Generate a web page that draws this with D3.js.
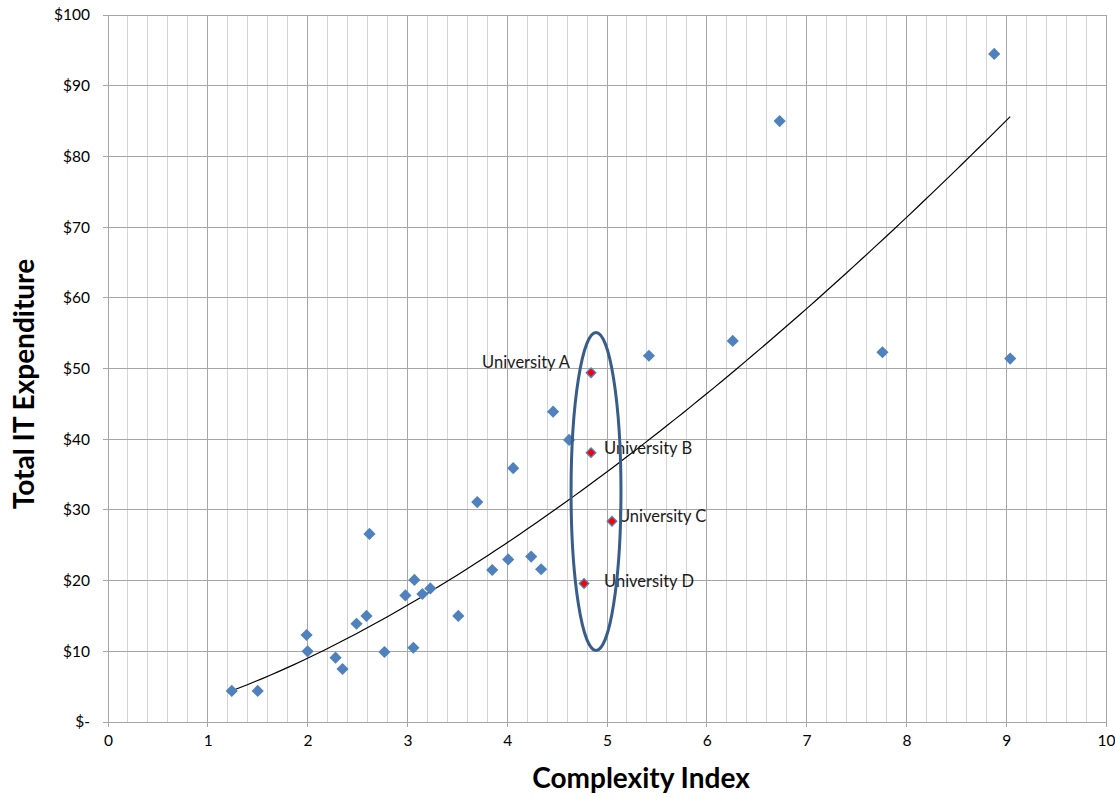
<!DOCTYPE html>
<html>
<head>
<meta charset="utf-8">
<script src="https://cdn.jsdelivr.net/npm/d3@7"></script>
<style>
  body { margin: 0; background: #fff; }
  text { font-family: Lato, "Open Sans", sans-serif; }
</style>
</head>
<body>
<div id="chart"></div>
<script>
// Data
const complexity = [1.24, 1.50, 1.99, 2.00, 2.28, 2.35, 2.49, 2.59, 2.62, 2.77,
                    2.98, 3.07, 3.06, 3.15, 3.23, 3.51, 3.70, 3.85, 4.01, 4.06,
                    4.24, 4.34, 4.46, 4.62, 5.42, 6.26, 6.73, 7.76, 8.88, 9.04];
const expenditure = [4.4, 4.4, 12.3, 10.0, 9.1, 7.5, 13.9, 15.0, 26.6, 9.9,
                     17.9, 20.1, 10.5, 18.1, 18.9, 15.0, 31.1, 21.5, 23.0, 35.9,
                     23.4, 21.6, 43.9, 39.9, 51.8, 53.9, 85.0, 52.3, 94.5, 51.4];
const universities = ['University A', 'University B', 'University C', 'University D'];
const uniComplexity = [4.84, 4.84, 5.05, 4.77];
const uniExpenditure = [49.4, 38.1, 28.4, 19.6];
const xTicks = [0, 1, 2, 3, 4, 5, 6, 7, 8, 9, 10];
const yTicks = [0, 10, 20, 30, 40, 50, 60, 70, 80, 90, 100];
// highlighted group (centre and half-axes in data units)
const groupCenter = [4.89, 32.6];
const groupRadius = [0.25, 22.5];

const width = 1115, height = 797;
const margin = { top: 15, right: 9, bottom: 75, left: 108 };
const w = width - margin.left - margin.right;
const h = height - margin.top - margin.bottom;

const svg = d3.select('#chart').append('svg')
    .attr('width', width)
    .attr('height', height);
const g = svg.append('g').attr('transform', `translate(${margin.left},${margin.top})`);

const x = d3.scaleLinear().domain([0, 10]).range([0, w]);
const y = d3.scaleLinear().domain([0, 100]).range([h, 0]);

// minor vertical grid every 0.2
g.selectAll('.minor')
    .data(d3.range(1, 50).filter(i => i % 5 !== 0).map(i => i / 5))
    .enter().append('line')
    .attr('x1', d => x(d)).attr('x2', d => x(d))
    .attr('y1', 0).attr('y2', h)
    .attr('stroke', '#d4d4d4').attr('shape-rendering', 'crispEdges');

// major vertical grid
g.selectAll('.vmajor')
    .data(xTicks)
    .enter().append('line')
    .attr('x1', d => x(d)).attr('x2', d => x(d))
    .attr('y1', 0).attr('y2', h + 5)
    .attr('stroke', '#a6a6a6').attr('shape-rendering', 'crispEdges');

// horizontal grid
g.selectAll('.hmajor')
    .data(yTicks)
    .enter().append('line')
    .attr('x1', -5).attr('x2', w)
    .attr('y1', d => y(d)).attr('y2', d => y(d))
    .attr('stroke', '#a6a6a6').attr('shape-rendering', 'crispEdges');

// axes labels via d3 axes (lines hidden, grid drawn above)
const xAxis = g.append('g')
    .attr('transform', `translate(0,${h})`)
    .call(d3.axisBottom(x).tickValues(xTicks).tickSize(0).tickPadding(13));
const yAxis = g.append('g')
    .call(d3.axisLeft(y).tickValues(yTicks).tickSize(0).tickPadding(18)
        .tickFormat(d => d === 0 ? '$-' : '$' + d));
[xAxis, yAxis].forEach(a => {
    a.select('.domain').remove();
    a.selectAll('text')
        .attr('font-family', 'Lato, sans-serif')
        .attr('font-size', 15.5)
        .attr('fill', '#000');
});

// power trendline fitted from all points
const allX = complexity.concat(uniComplexity);
const allY = expenditure.concat(uniExpenditure);
const lx = allX.map(Math.log), ly = allY.map(Math.log);
const mx = d3.mean(lx), my = d3.mean(ly);
const b = d3.sum(lx, (v, i) => (v - mx) * (ly[i] - my)) / d3.sum(lx, v => (v - mx) * (v - mx));
const a = Math.exp(my - b * mx);
const [xMin, xMax] = d3.extent(allX);
const trend = d3.range(0, 101).map(i => xMin + (xMax - xMin) * i / 100);
g.append('path')
    .datum(trend)
    .attr('fill', 'none')
    .attr('stroke', '#000')
    .attr('stroke-width', 1.2)
    .attr('d', d3.line().x(d => x(d)).y(d => y(a * Math.pow(d, b))));

// blue diamonds
const diamond = d3.symbol().type(d3.symbolSquare).size(74);
g.selectAll('.pt')
    .data(complexity)
    .enter().append('path')
    .attr('d', diamond)
    .attr('transform', (d, i) => `translate(${x(d)},${y(expenditure[i])}) rotate(45)`)
    .attr('fill', '#4f81bd');

// highlighted universities
const small = d3.symbol().type(d3.symbolSquare).size(46);
g.selectAll('.uni')
    .data(universities)
    .enter().append('path')
    .attr('d', small)
    .attr('transform', (d, i) => `translate(${x(uniComplexity[i])},${y(uniExpenditure[i])}) rotate(45)`)
    .attr('fill', '#ff0000')
    .attr('stroke', '#4f81bd')
    .attr('stroke-width', 1.3);

// label placement relative to each point
const labelOffset = [[-21, -11, 'end'], [13, -4, 'start'], [6, -5, 'start'], [20, -2, 'start']];
g.selectAll('.ulabel')
    .data(universities)
    .enter().append('text')
    .attr('x', (d, i) => x(uniComplexity[i]) + labelOffset[i][0])
    .attr('y', (d, i) => y(uniExpenditure[i]) + labelOffset[i][1])
    .attr('dy', '0.35em')
    .attr('text-anchor', (d, i) => labelOffset[i][2])
    .attr('font-size', 16.5)
    .attr('fill', '#1a1a1a')
    .text(d => d);

// ellipse around the group
g.append('ellipse')
    .attr('cx', x(groupCenter[0]))
    .attr('cy', y(groupCenter[1]))
    .attr('rx', x(groupRadius[0]) - x(0))
    .attr('ry', y(0) - y(groupRadius[1]))
    .attr('fill', 'none')
    .attr('stroke', '#385d8a')
    .attr('stroke-width', 3);

// axis titles
svg.append('text')
    .attr('x', 641)
    .attr('y', 788)
    .attr('text-anchor', 'middle')
    .attr('font-size', 28)
    .attr('font-weight', 'bold')
    .text('Complexity Index');

svg.append('text')
    .attr('transform', `translate(34,${384}) rotate(-90)`)
    .attr('text-anchor', 'middle')
    .attr('font-size', 28)
    .attr('font-weight', 'bold')
    .text('Total IT Expenditure');
</script>
</body>
</html>
